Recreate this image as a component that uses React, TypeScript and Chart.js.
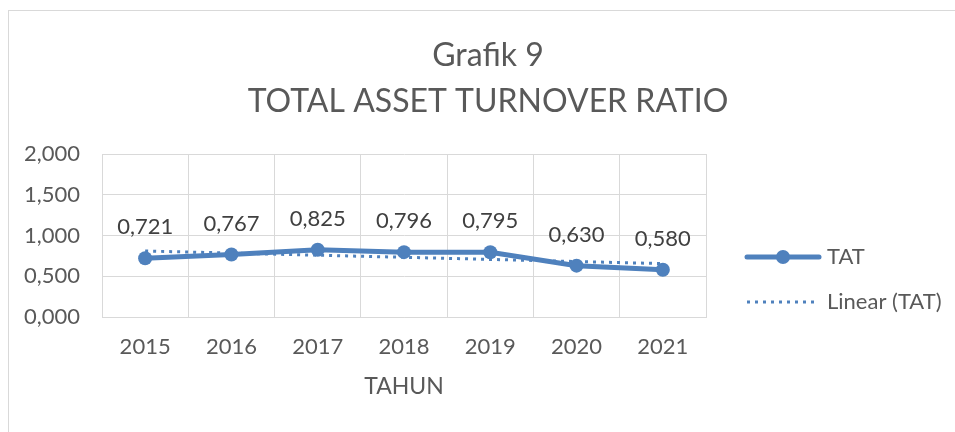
import React, { useEffect, useRef } from "react";
import { Chart, registerables } from "chart.js";

Chart.register(...registerables);

const categories = ["2015", "2016", "2017", "2018", "2019", "2020", "2021"];
const tatValues = [0.721, 0.767, 0.825, 0.796, 0.795, 0.63, 0.58];
// Linear trend line read at first and last year
const trendValues = [0.81, null, null, null, null, null, 0.655];
const titleLines = ["Grafik 9", "TOTAL ASSET TURNOVER RATIO"];
const axisTitle = "TAHUN";
const legendLabels = ["TAT", "Linear (TAT)"];

const FONT = "Lato, 'Open Sans', sans-serif";
const BLUE = "#4f81bd";
const GRID = "#d9d9d9";
const TEXT = "#595959";

const fmt = (v: number) => v.toFixed(3).replace(".", ",");

export default function App() {
  const ref = useRef<HTMLCanvasElement | null>(null);

  useEffect(() => {
    const canvas = ref.current;
    if (!canvas) return;

    const overlay = {
      id: "overlay",
      afterDatasetsDraw(chart: any) {
        const ctx = chart.ctx;
        ctx.save();
        // data labels for the TAT series
        const meta = chart.getDatasetMeta(1);
        ctx.fillStyle = "#404040";
        ctx.font = `22px ${FONT}`;
        ctx.textAlign = "center";
        ctx.textBaseline = "middle";
        meta.data.forEach((pt: any, i: number) => {
          ctx.fillText(fmt(tatValues[i]), pt.x, pt.y - 31);
        });
        ctx.restore();
      },
      afterDraw(chart: any) {
        const ctx = chart.ctx;
        ctx.save();
        // title
        ctx.fillStyle = TEXT;
        ctx.textAlign = "center";
        ctx.textBaseline = "alphabetic";
        ctx.font = `32px ${FONT}`;
        ctx.fillText(titleLines[0], 488, 66);
        ctx.fillText(titleLines[1], 488, 112);

        // legend
        const lx0 = 747, lx1 = 819, tx = 827;
        const y1 = 257, y2 = 302;
        ctx.strokeStyle = BLUE;
        ctx.lineWidth = 5;
        ctx.lineCap = "round";
        ctx.beginPath();
        ctx.moveTo(lx0, y1);
        ctx.lineTo(lx1, y1);
        ctx.stroke();
        ctx.fillStyle = BLUE;
        ctx.beginPath();
        ctx.arc((lx0 + lx1) / 2, y1, 7, 0, Math.PI * 2);
        ctx.fill();

        ctx.lineWidth = 3;
        ctx.lineCap = "butt";
        ctx.setLineDash([3, 5]);
        ctx.beginPath();
        ctx.moveTo(lx0, y2);
        ctx.lineTo(lx1 - 2, y2);
        ctx.stroke();
        ctx.setLineDash([]);

        ctx.fillStyle = TEXT;
        ctx.font = `22px ${FONT}`;
        ctx.textAlign = "left";
        ctx.textBaseline = "middle";
        ctx.fillText(legendLabels[0], tx, y1);
        ctx.fillText(legendLabels[1], tx, y2);
        ctx.restore();
      },
    };

    const chart = new Chart(canvas, {
      type: "line",
      data: {
        labels: categories,
        datasets: [
          {
            label: legendLabels[1],
            data: trendValues as any,
            borderColor: BLUE,
            borderWidth: 3,
            borderDash: [3, 5],
            pointRadius: 0,
            spanGaps: true,
            fill: false,
            order: 0,
          },
          {
            label: legendLabels[0],
            data: tatValues,
            borderColor: BLUE,
            backgroundColor: BLUE,
            borderWidth: 5,
            pointRadius: 7,
            pointBackgroundColor: BLUE,
            pointBorderColor: BLUE,
            pointBorderWidth: 0,
            fill: false,
            tension: 0,
            order: 1,
          },
        ],
      },
      options: {
        responsive: false,
        animation: false,
        events: [],
        layout: { padding: { left: 0, top: 154, right: 249, bottom: 32 } },
        plugins: {
          legend: { display: false },
          title: { display: false },
          tooltip: { enabled: false },
        },
        scales: {
          x: {
            offset: true,
            grid: { color: GRID, lineWidth: 1, offset: true, drawTicks: false },
            border: { color: GRID },
            ticks: { color: TEXT, font: { family: FONT, size: 22 }, padding: 17, maxRotation: 0 },
            title: {
              display: true,
              text: axisTitle,
              color: TEXT,
              font: { family: FONT, size: 23 },
              padding: { top: 0, bottom: 0 },
            },
            afterFit: (s: any) => {
              s.height = 83;
            },
          },
          y: {
            min: 0,
            max: 2,
            grid: { color: GRID, lineWidth: 1, drawTicks: false },
            border: { color: GRID },
            ticks: {
              stepSize: 0.5,
              color: TEXT,
              font: { family: FONT, size: 22 },
              padding: 22,
              callback: (v: any) => fmt(Number(v)),
            },
            afterFit: (s: any) => {
              s.width = 102;
            },
          },
        },
      },
      plugins: [overlay],
    });

    return () => chart.destroy();
  }, []);

  return (
    <div style={{ position: "fixed", left: 0, top: 0, width: 955, height: 432, overflow: "hidden", background: "#fff" }}>
      <div
        style={{
          position: "absolute",
          left: 8,
          top: 10,
          width: 1000,
          height: 500,
          border: `1px solid ${GRID}`,
          boxSizing: "border-box",
        }}
      />
      <canvas ref={ref} width={955} height={432} style={{ position: "absolute", left: 0, top: 0 }} />
    </div>
  );
}
